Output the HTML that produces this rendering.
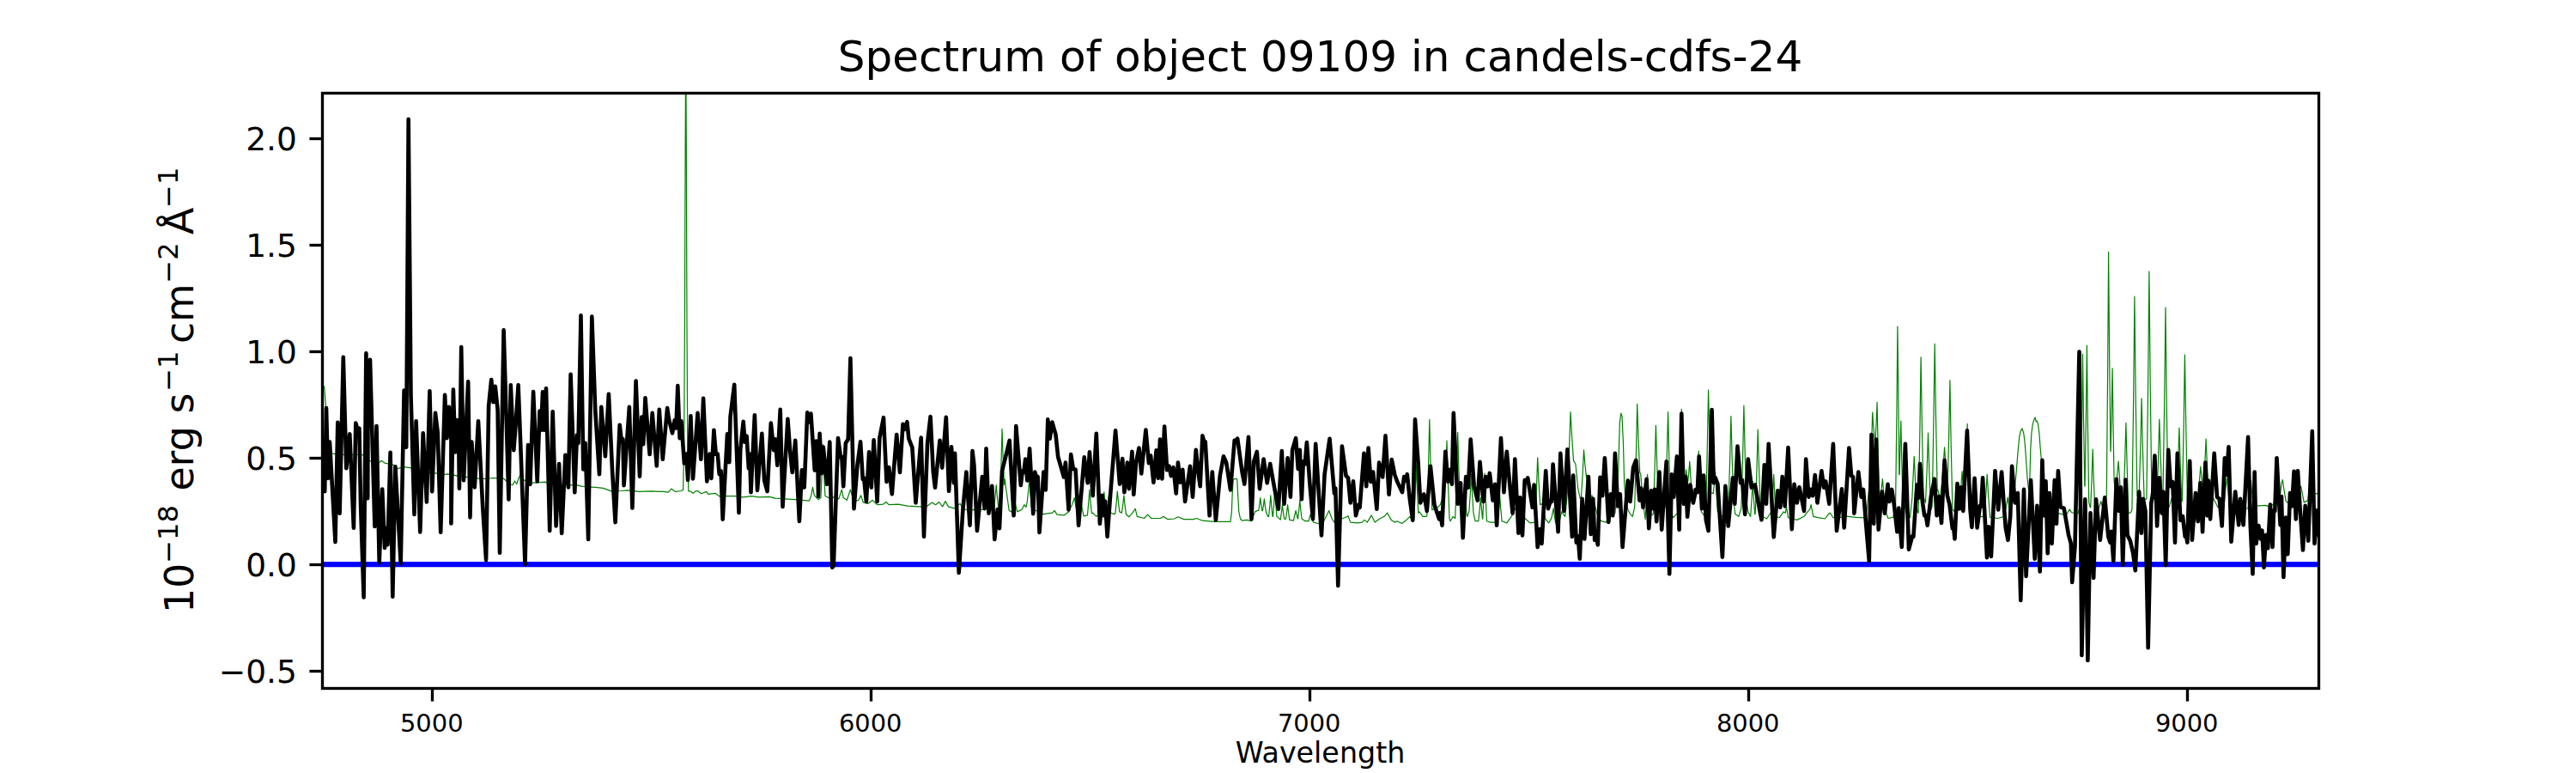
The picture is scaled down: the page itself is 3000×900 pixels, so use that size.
<!DOCTYPE html>
<html lang="en"><head><meta charset="utf-8"><title>Spectrum of object 09109 in candels-cdfs-24</title>
<style>html,body{margin:0;padding:0;background:#fff;}body{width:3000px;height:900px;overflow:hidden;}svg{display:block;}text{font-family:"DejaVu Sans","Liberation Sans",sans-serif;fill:#000;}</style></head><body>
<svg width="3000" height="900" viewBox="0 0 3000 900">
<rect x="0" y="0" width="3000" height="900" fill="#fff"/>
<defs><clipPath id="ax"><rect x="375" y="108" width="2325" height="693"/></clipPath></defs>
<g clip-path="url(#ax)" fill="none" stroke-linejoin="round">
<polyline points="375.8,449.4 377.7,450.1 378.4,459.9 379.3,471.5 380.7,494.8 382.8,515.8 386.3,527.9 395.6,529.3 404.9,529.3 421.2,529.3 424.7,530.9 430.6,536.7 441.0,539.1 444.1,536.3 448.0,539.1 458.5,541.4 463.2,545.6 470.2,543.7 479.5,544.9 491.1,546.5 495.8,550.7 505.1,550.2 514.4,553.0 521.4,551.9 533.0,554.2 547.0,555.8 561.0,557.7 575.0,556.5 586.6,557.2 593.6,563.5 597.1,564.7 599.4,560.0 601.8,563.5 604.1,556.5 606.4,551.9 608.0,557.7 616.9,562.4 626.2,561.9 635.5,561.2 637.9,563.5 649.5,564.2 663.5,564.7 670.0,565.2 672.3,564.9 677.0,566.1 684.0,566.8 693.3,567.3 702.6,568.4 711.9,571.9 723.6,571.5 730.6,570.8 744.5,572.4 758.5,571.9 772.5,572.4 778.3,573.1 781.8,569.1 786.5,572.4 793.4,571.5 794.8,570.8 795.6,570.0 796.6,520.0 797.4,380.0 798.0,200.0 798.7,40.0 799.4,200.0 800.0,380.0 800.8,520.0 801.8,572.0 803.9,571.9 807.4,574.3 809.8,571.9 812.5,571.5 816.7,574.7 822.6,572.4 824.9,575.4 833.0,574.3 837.7,577.7 856.3,577.7 865.7,578.9 875.0,577.7 884.3,578.9 895.9,578.4 902.9,580.1 914.6,580.8 926.2,581.7 942.5,583.1 944.8,576.6 946.5,567.3 948.3,576.6 953.0,581.7 955.9,579.6 957.3,548.6 958.4,517.6 959.5,547.4 960.9,577.2 963.5,578.9 969.3,580.1 971.4,578.2 974.1,579.6 976.8,580.9 980.3,570.1 982.2,579.6 986.3,582.3 990.4,570.1 993.1,579.6 995.8,583.6 999.9,582.3 1002.6,576.8 1005.3,585.0 1010.8,586.4 1016.2,582.3 1021.6,587.7 1028.4,587.2 1032.0,584.5 1035.2,587.7 1046.1,587.2 1057.0,589.1 1070.5,589.9 1078.7,589.9 1085.5,585.0 1089.6,587.7 1093.6,584.5 1097.7,589.9 1101.0,583.6 1104.5,589.9 1111.3,591.8 1118.1,586.4 1122.2,593.2 1133.0,593.7 1146.6,593.2 1156.1,591.0 1157.7,590.9 1159.1,577.7 1160.2,564.6 1161.3,577.6 1162.7,590.5 1164.0,590.4 1164.5,588.3 1165.9,543.8 1167.0,499.4 1168.1,532.0 1169.5,564.6 1170.3,557.8 1171.6,568.7 1173.3,580.9 1175.2,594.5 1177.9,595.9 1182.0,585.0 1184.7,595.9 1190.1,593.2 1192.8,587.7 1195.0,590.4 1196.3,583.9 1197.7,570.9 1198.8,557.8 1199.9,574.0 1201.3,590.1 1201.5,590.4 1206.4,594.5 1214.6,598.6 1225.4,597.2 1228.2,594.5 1230.9,599.1 1239.0,599.9 1244.5,595.9 1248.5,587.7 1251.2,579.6 1254.0,595.9 1256.1,587.7 1258.0,576.8 1259.9,590.4 1262.1,600.8 1266.2,599.9 1266.4,599.9 1267.8,584.9 1268.9,570.0 1270.0,583.9 1271.4,597.8 1272.7,597.2 1276.8,601.3 1282.2,595.9 1283.6,595.9 1284.8,584.3 1285.8,572.8 1286.8,584.3 1288.0,595.9 1288.5,595.9 1289.0,596.0 1290.2,586.4 1291.2,576.8 1292.2,587.0 1293.4,597.1 1293.9,597.2 1297.2,598.6 1298.8,597.9 1300.2,585.0 1301.3,572.0 1302.4,584.0 1303.8,595.9 1304.0,595.9 1306.4,597.1 1307.8,586.9 1308.9,576.8 1310.0,587.7 1311.4,598.7 1314.8,601.8 1318.9,597.2 1322.2,592.3 1324.3,601.3 1332.5,603.5 1336.6,599.1 1340.7,603.5 1351.5,603.5 1354.8,601.3 1359.7,604.6 1367.8,604.0 1371.9,601.8 1378.7,604.6 1389.6,604.6 1393.6,603.5 1400.4,606.2 1414.0,607.3 1433.0,607.3 1434.4,595.9 1435.2,574.1 1436.3,558.4 1438.5,557.3 1440.7,557.8 1441.7,576.8 1442.8,595.9 1444.5,604.0 1446.6,606.2 1452.1,605.4 1457.5,606.7 1461.6,595.9 1464.3,594.5 1465.8,594.5 1466.9,587.1 1467.8,579.6 1468.7,587.1 1469.8,594.5 1470.0,594.5 1470.4,594.6 1471.5,587.8 1472.4,580.9 1473.3,588.5 1474.4,596.0 1476.5,601.3 1477.6,601.3 1478.8,589.1 1479.8,576.8 1480.8,589.1 1482.0,601.3 1482.2,601.3 1482.5,601.3 1483.7,585.7 1484.7,570.0 1485.7,585.7 1486.9,601.3 1487.4,601.3 1491.2,605.1 1492.4,596.4 1493.4,587.7 1494.4,595.9 1495.6,604.1 1495.8,604.0 1497.4,604.4 1498.6,596.0 1499.6,587.7 1500.6,596.5 1501.8,605.3 1502.3,605.4 1506.4,606.2 1509.1,594.5 1511.3,604.0 1511.6,604.0 1512.8,593.2 1513.8,582.3 1514.8,593.2 1516.0,604.0 1516.2,604.0 1520.0,606.7 1524.1,606.7 1526.0,599.1 1529.5,608.1 1534.9,609.5 1541.7,606.7 1544.5,601.3 1547.7,594.5 1551.2,604.0 1554.0,608.1 1562.1,604.0 1566.2,602.7 1570.0,600.8 1572.7,608.1 1580.9,608.9 1586.3,608.1 1589.0,605.4 1592.3,608.1 1597.2,599.9 1601.2,608.1 1606.7,604.0 1612.1,601.3 1615.7,597.2 1620.3,605.4 1624.3,608.1 1627.1,606.7 1632.5,609.5 1637.9,605.4 1642.0,601.3 1644.7,606.7 1646.8,604.0 1648.2,572.7 1649.3,541.5 1650.4,569.4 1651.8,597.3 1652.9,595.9 1657.0,601.3 1661.0,601.3 1661.8,600.5 1663.5,544.5 1664.8,488.5 1666.1,541.1 1667.8,593.8 1668.4,593.2 1671.9,593.2 1677.3,587.7 1680.1,579.6 1682.0,585.5 1683.7,549.2 1685.0,513.0 1686.3,558.3 1688.0,603.6 1689.0,606.7 1692.3,601.3 1694.7,603.7 1696.4,553.6 1697.7,503.5 1699.0,549.4 1700.7,595.3 1703.1,590.5 1704.5,576.8 1705.6,563.0 1706.7,581.2 1708.1,599.4 1709.1,601.3 1711.0,594.3 1712.4,573.3 1713.5,552.4 1714.6,574.9 1716.0,597.4 1718.1,606.7 1721.8,606.7 1723.2,593.2 1724.3,579.6 1725.4,591.9 1726.5,604.0 1726.8,604.2 1727.9,577.5 1729.0,551.0 1730.1,578.8 1731.5,606.6 1731.7,606.7 1735.8,608.1 1739.8,608.1 1743.9,609.5 1744.1,609.4 1745.5,593.1 1746.6,576.8 1747.7,591.8 1749.1,606.9 1749.3,606.7 1754.8,608.9 1760.2,601.3 1765.7,590.4 1769.7,595.9 1776.5,604.0 1782.0,608.9 1787.4,608.1 1787.7,607.0 1789.4,569.9 1790.7,532.8 1792.0,560.2 1793.7,587.6 1796.9,586.4 1799.6,604.0 1803.7,608.9 1806.4,604.0 1806.6,604.2 1808.0,598.0 1809.1,591.8 1810.2,600.2 1811.6,608.7 1811.8,608.9 1815.9,608.1 1818.6,595.9 1822.7,601.3 1825.4,574.1 1825.5,573.8 1827.4,526.7 1829.0,479.6 1830.6,507.8 1832.5,536.1 1832.5,536.1 1834.9,540.2 1837.7,568.7 1840.4,580.9 1841.5,578.5 1843.2,551.2 1844.5,523.9 1845.8,539.8 1847.5,555.7 1847.7,552.4 1849.1,574.1 1851.2,582.3 1854.0,576.8 1858.0,590.4 1860.8,601.3 1864.8,606.7 1870.0,608.1 1870.0,608.1 1875.4,601.3 1880.9,597.2 1883.6,568.7 1884.9,541.5 1886.3,492.6 1887.7,481.2 1889.0,484.5 1890.4,514.3 1891.7,563.3 1893.1,582.3 1895.8,593.2 1898.5,598.6 1901.2,601.3 1903.7,590.4 1903.7,590.4 1905.4,530.4 1906.7,470.3 1908.0,510.0 1909.7,549.7 1910.8,552.4 1912.1,568.7 1913.5,585.0 1916.1,604.7 1917.5,578.5 1918.6,552.4 1919.7,577.1 1921.1,601.7 1921.6,601.3 1925.4,598.6 1927.1,547.0 1928.4,495.3 1929.8,542.9 1931.4,590.5 1931.4,590.4 1933.9,595.9 1939.3,590.4 1939.6,590.7 1941.2,535.1 1942.6,479.6 1943.9,537.6 1945.6,595.7 1945.8,595.9 1948.8,602.7 1954.8,595.9 1955.3,593.8 1957.0,535.1 1958.3,476.3 1959.6,523.1 1961.3,569.8 1961.6,568.7 1963.8,547.0 1965.3,565.0 1966.7,551.2 1967.8,537.4 1968.9,555.6 1970.3,573.7 1970.5,574.1 1973.3,568.7 1975.2,573.5 1976.9,549.4 1978.2,525.2 1979.5,560.1 1981.2,595.1 1981.4,595.9 1985.5,601.3 1986.6,597.6 1988.2,525.8 1989.6,454.0 1990.9,514.1 1992.6,574.1 1995.0,574.1 1995.2,574.9 1996.6,562.3 1997.7,549.7 1998.8,572.3 2000.2,594.9 2000.4,595.9 2005.9,601.3 2012.7,590.4 2012.9,590.1 2014.6,537.3 2015.9,484.5 2017.2,533.4 2018.9,582.3 2018.9,582.3 2020.8,598.6 2024.9,601.3 2027.9,591.3 2029.6,531.7 2030.9,472.2 2032.2,527.4 2033.9,582.6 2035.8,595.9 2038.5,601.3 2038.7,601.2 2040.1,580.8 2041.2,560.5 2042.3,579.6 2043.7,598.7 2043.9,598.6 2044.2,598.2 2045.9,549.2 2047.2,500.2 2048.6,546.1 2050.2,592.0 2052.1,601.3 2057.5,604.0 2062.9,595.9 2063.2,596.1 2064.6,574.3 2065.7,552.4 2066.8,576.8 2068.2,601.1 2068.4,601.3 2072.4,602.7 2075.2,598.6 2077.1,595.9 2079.2,597.2 2080.6,590.4 2082.5,602.7 2087.4,604.0 2092.8,605.4 2101.0,601.3 2105.1,595.9 2107.8,593.2 2109.1,587.7 2111.8,601.3 2117.3,602.7 2125.4,604.0 2129.5,598.6 2131.4,597.2 2134.9,602.7 2141.7,602.7 2148.5,601.3 2150.0,601.2 2161.6,602.4 2173.3,602.8 2176.1,574.4 2178.4,552.8 2179.7,516.4 2180.7,480.0 2181.7,494.9 2183.0,509.9 2183.1,509.2 2183.8,517.4 2185.1,492.9 2186.1,468.4 2187.1,518.9 2188.4,569.4 2188.4,569.8 2190.1,579.1 2192.4,557.6 2194.3,581.4 2195.9,595.4 2198.9,603.5 2204.7,602.4 2206.8,593.0 2207.6,586.8 2208.9,483.5 2209.9,380.2 2210.9,466.4 2211.8,552.4 2212.2,552.6 2212.9,521.2 2213.8,490.0 2214.7,532.1 2215.8,574.2 2216.6,579.1 2219.9,597.7 2224.5,602.4 2226.9,579.1 2229.2,531.3 2231.5,579.1 2232.9,595.4 2234.1,597.3 2235.8,506.6 2237.1,415.8 2238.4,497.9 2240.1,579.9 2240.4,579.1 2242.5,585.4 2244.2,544.7 2245.5,504.0 2246.8,548.2 2248.5,592.5 2249.0,593.0 2250.2,589.4 2251.8,494.9 2253.2,400.4 2254.5,485.8 2256.2,571.2 2256.7,569.8 2259.5,581.4 2261.8,560.4 2264.6,520.8 2266.5,551.1 2267.9,574.4 2267.9,574.5 2269.6,508.7 2270.9,442.8 2272.2,517.9 2273.9,593.0 2273.9,593.0 2276.9,596.5 2281.6,593.0 2283.2,574.4 2285.1,548.8 2287.0,579.1 2288.2,583.2 2289.8,538.3 2291.2,493.4 2292.5,540.8 2294.2,588.2 2294.4,588.4 2301.4,602.4 2310.7,601.2 2312.6,579.1 2314.2,552.3 2315.8,579.1 2317.7,602.4 2327.0,603.5 2334.0,601.2 2336.3,590.7 2338.2,579.1 2339.8,590.7 2341.5,596.5 2344.5,579.1 2346.8,565.1 2348.4,546.5 2350.3,523.2 2351.7,509.2 2353.1,502.2 2355.0,498.9 2356.8,504.5 2358.2,516.2 2359.6,534.8 2361.0,555.8 2362.4,569.8 2363.1,572.1 2363.8,560.4 2364.8,523.2 2365.9,504.5 2367.1,495.2 2368.5,489.4 2370.1,485.9 2371.3,491.0 2372.4,490.1 2373.6,494.1 2375.0,505.7 2375.9,518.5 2377.1,532.5 2378.3,546.5 2379.4,560.4 2381.1,579.1 2382.9,590.7 2389.9,597.7 2399.2,598.2 2406.2,600.0 2408.5,595.8 2410.4,593.0 2412.3,596.5 2414.4,597.2 2420.2,597.7 2423.2,584.9 2424.5,498.6 2425.5,412.3 2426.5,488.9 2427.8,565.4 2427.9,565.1 2428.1,566.0 2429.4,484.2 2430.4,402.3 2431.4,493.5 2432.7,584.8 2434.2,590.7 2434.7,590.9 2436.1,557.1 2437.2,523.2 2438.3,558.1 2439.7,592.9 2440.0,593.0 2441.0,593.0 2442.3,601.2 2444.5,590.7 2446.8,583.7 2449.1,593.0 2451.4,596.5 2453.3,576.0 2454.6,434.6 2455.6,293.3 2456.6,409.2 2457.9,525.1 2458.0,524.3 2458.1,525.5 2459.2,477.2 2460.1,428.9 2461.0,494.4 2462.1,559.9 2463.8,574.4 2465.4,555.8 2467.1,537.1 2468.7,560.4 2470.1,593.0 2472.4,583.7 2472.9,584.7 2474.6,538.6 2475.9,492.4 2477.2,544.6 2478.9,596.7 2479.4,597.7 2481.7,596.5 2482.9,593.3 2484.6,469.3 2485.9,345.2 2487.2,461.1 2488.9,577.1 2489.9,574.4 2491.0,579.1 2491.1,579.1 2492.8,521.4 2494.1,463.8 2495.4,522.4 2497.1,581.1 2498.0,581.4 2499.9,580.9 2501.6,448.5 2502.9,316.1 2504.2,447.8 2505.9,579.4 2507.3,579.1 2510.8,583.7 2511.8,582.5 2513.5,535.4 2514.8,488.2 2516.2,531.6 2517.8,575.0 2518.3,574.4 2519.0,575.9 2520.7,467.0 2522.0,358.0 2523.3,473.3 2525.0,588.6 2526.0,590.7 2529.5,579.1 2534.1,583.7 2534.9,583.7 2536.6,540.9 2537.9,498.0 2539.2,540.9 2540.9,583.7 2541.1,583.7 2541.4,583.6 2543.1,498.4 2544.4,413.2 2545.8,497.4 2547.4,581.6 2548.1,581.4 2552.8,590.7 2559.8,583.7 2561.4,560.4 2562.8,543.0 2564.4,560.4 2566.1,568.9 2567.8,540.0 2569.1,511.1 2570.4,541.5 2572.1,571.9 2572.6,572.1 2578.4,581.4 2583.0,590.7 2590.0,588.4 2591.9,569.8 2593.5,555.8 2595.2,574.4 2597.0,590.7 2606.3,593.0 2618.0,591.9 2619.8,579.1 2621.5,559.3 2623.1,579.1 2625.0,588.4 2629.6,588.9 2638.9,588.4 2643.6,590.7 2652.9,581.4 2655.7,574.4 2657.1,562.8 2658.3,558.6 2659.9,569.8 2662.2,583.7 2666.9,587.2 2673.9,579.1 2677.4,569.8 2679.7,566.3 2681.3,574.4 2683.2,584.9 2687.9,582.6 2689.0,569.8 2690.2,559.3 2691.8,567.4 2693.7,574.4 2697.2,574.9 2699.5,574.4" stroke="#008000" stroke-width="1.200"/>
<line x1="375" y1="657.13" x2="2700" y2="657.13" stroke="#0000ff" stroke-width="6.250"/>
<polyline points="376.0,545.0 378.2,572.1 380.0,475.1 382.1,557.0 384.0,514.6 390.5,631.0 393.3,491.8 395.6,597.7 399.8,415.7 403.3,545.3 407.3,505.3 411.9,614.7 414.3,492.5 416.6,500.8 418.4,498.8 420.1,589.4 423.6,695.5 426.4,411.2 428.2,580.2 428.7,446.1 431.0,418.9 436.4,612.9 438.5,496.0 441.7,654.8 445.2,569.6 448.0,638.0 449.9,615.1 451.5,634.3 454.6,526.8 457.3,694.8 460.4,543.3 466.7,655.9 470.6,454.6 473.2,520.6 475.7,138.7 478.5,459.9 482.5,598.9 484.6,490.2 489.3,619.4 492.7,504.2 496.9,584.4 500.4,455.3 503.2,572.1 507.0,480.9 509.8,504.1 513.2,619.8 518.1,459.9 520.5,510.1 522.8,473.9 525.4,510.1 525.4,609.4 527.9,453.6 530.2,526.4 531.9,489.0 534.4,528.8 534.9,568.6 537.2,404.0 540.0,559.3 545.2,444.3 547.5,602.4 549.3,514.6 552.8,567.4 557.0,490.2 562.2,590.6 566.1,652.0 569.1,472.7 572.2,442.0 574.5,468.2 576.8,449.9 579.6,477.3 582.0,643.6 586.6,384.2 590.1,500.8 592.4,581.4 594.8,448.3 598.3,524.1 600.6,494.8 603.6,448.3 611.5,656.6 615.0,518.1 617.4,563.9 621.1,456.0 625.7,560.4 628.5,478.5 630.2,500.8 632.0,456.4 633.9,500.8 636.0,452.2 640.2,618.0 643.7,479.2 647.6,612.4 651.1,540.1 654.2,621.0 658.4,529.8 661.9,567.4 664.6,435.9 669.3,573.3 671.9,506.5 673.5,515.9 676.5,367.4 679.3,546.5 681.6,515.8 685.1,628.0 689.3,368.6 693.3,478.5 698.0,552.3 700.3,473.9 704.9,531.3 708.9,458.7 713.1,548.6 716.6,608.2 721.7,494.8 724.0,514.8 725.4,511.2 726.6,565.1 732.9,473.9 736.4,591.4 740.6,443.6 745.0,554.6 747.3,485.5 749.2,517.1 751.5,463.4 756.6,529.0 759.7,480.9 764.8,542.5 767.8,476.9 771.8,534.8 777.1,475.1 779.0,488.0 783.0,504.3 785.8,489.0 787.4,498.5 789.3,449.0 791.6,510.1 793.4,490.2 796.9,539.5 799.3,528.6 801.1,558.8 804.4,484.4 807.0,557.4 812.5,480.9 816.3,534.8 819.1,463.9 823.3,560.4 826.5,528.6 828.4,557.0 831.4,500.7 833.7,528.8 835.8,528.6 837.7,552.1 839.6,548.4 841.7,604.7 847.0,505.3 849.3,538.3 850.5,485.5 855.2,447.8 860.5,597.0 862.2,524.1 865.7,490.9 867.5,514.8 869.6,507.7 871.9,545.3 873.1,528.6 874.5,573.3 878.9,483.2 882.0,570.9 887.3,504.9 890.1,559.3 893.6,572.1 897.8,492.5 901.1,524.1 902.9,511.2 905.3,541.8 908.7,476.9 911.5,590.0 917.4,487.9 920.4,528.8 922.7,550.0 926.2,512.8 930.9,607.0 933.9,547.3 936.7,567.4 940.2,480.4 942.1,491.5 944.4,481.6 948.8,547.6 950.7,513.5 952.3,528.8 953.0,577.9 954.6,504.9 957.0,551.1 958.8,520.5 963.0,563.9 966.3,514.6 969.3,660.6 970.8,658.7 976.0,510.1 979.0,532.4 980.3,531.9 982.2,566.3 984.9,515.7 987.7,511.6 990.4,417.0 994.5,592.2 998.5,541.5 1002.1,514.2 1004.8,558.2 1006.1,556.3 1008.9,584.0 1012.1,526.4 1014.8,567.7 1017.6,512.3 1021.6,584.0 1024.3,510.3 1029.0,486.2 1032.5,560.9 1035.2,544.1 1038.8,575.3 1042.0,533.4 1044.2,506.0 1048.0,550.0 1051.5,493.8 1053.7,499.8 1056.4,491.1 1058.3,510.6 1062.4,521.1 1066.5,585.4 1072.7,509.6 1076.0,624.8 1080.1,515.7 1083.6,485.1 1086.8,549.7 1089.0,567.7 1094.5,512.8 1097.2,544.6 1101.8,485.7 1105.1,571.8 1108.0,520.4 1110.8,562.3 1112.1,527.8 1116.7,666.9 1121.4,593.2 1125.4,549.5 1129.5,611.7 1132.5,525.1 1134.4,541.5 1137.9,618.0 1143.9,555.0 1146.6,592.2 1148.5,522.3 1151.5,597.6 1155.3,565.8 1158.3,628.0 1161.8,593.0 1164.0,615.2 1167.0,548.2 1171.1,532.0 1175.7,512.8 1180.6,600.3 1183.3,496.0 1188.8,565.0 1190.7,548.2 1192.3,550.0 1194.2,534.6 1196.4,559.5 1199.1,522.3 1203.2,598.1 1205.3,549.5 1207.2,556.8 1208.6,555.0 1210.5,619.9 1215.4,549.5 1217.8,570.4 1220.3,488.4 1222.7,510.6 1225.4,491.6 1229.5,506.2 1232.2,532.0 1239.0,555.5 1240.9,538.6 1244.5,593.5 1247.2,529.1 1249.9,546.0 1252.6,546.8 1256.1,611.7 1262.7,532.4 1266.7,562.3 1268.9,526.4 1272.7,577.2 1276.8,504.7 1280.9,609.8 1283.6,576.7 1285.5,600.3 1287.1,583.5 1289.6,624.8 1293.1,576.8 1299.1,501.4 1304.0,563.6 1307.2,534.0 1309.4,573.1 1312.9,538.6 1314.8,569.1 1318.4,525.9 1320.3,575.8 1323.0,538.8 1326.5,521.5 1329.2,551.4 1334.4,500.6 1337.9,539.2 1340.1,530.5 1343.4,561.7 1346.6,524.2 1348.8,556.8 1351.0,511.5 1353.4,557.4 1356.1,496.5 1359.1,547.3 1361.6,542.7 1363.8,554.1 1366.5,544.1 1369.7,574.5 1371.9,538.6 1374.6,561.7 1377.3,546.8 1380.1,584.0 1386.0,542.7 1389.0,578.6 1392.8,523.7 1395.8,552.4 1397.7,566.3 1400.4,507.4 1402.1,513.3 1403.7,514.2 1408.6,600.3 1411.8,549.5 1415.9,605.7 1420.8,553.8 1424.9,531.3 1428.2,538.8 1433.0,570.4 1437.7,512.8 1439.3,513.3 1441.2,510.7 1446.6,549.7 1449.3,563.6 1454.0,508.8 1457.5,604.4 1460.2,537.4 1463.8,525.9 1467.0,569.1 1471.6,534.6 1475.7,562.3 1479.2,540.0 1483.3,563.3 1488.8,592.7 1492.8,525.1 1495.5,586.7 1499.6,533.2 1502.9,578.6 1505.1,523.9 1509.1,510.1 1511.8,546.0 1513.8,523.7 1515.9,581.3 1517.8,537.3 1519.7,540.5 1521.9,515.0 1525.4,563.3 1529.0,604.4 1532.2,516.9 1539.0,623.4 1542.6,552.4 1548.5,510.7 1554.0,574.5 1555.3,568.5 1558.3,682.0 1562.9,519.6 1567.6,554.1 1570.0,556.3 1572.7,585.4 1576.0,560.4 1579.0,600.3 1582.2,587.6 1583.6,590.8 1588.5,527.8 1591.2,566.3 1593.6,521.5 1596.4,560.9 1599.1,549.5 1603.4,592.7 1606.1,538.6 1610.2,555.5 1613.5,507.4 1617.6,575.8 1620.8,535.1 1624.3,552.8 1627.1,560.5 1633.0,573.1 1635.2,555.0 1637.1,559.5 1638.8,552.2 1642.0,582.3 1645.3,605.7 1648.0,488.4 1651.5,537.4 1654.2,585.4 1658.3,575.3 1661.8,594.9 1665.9,542.7 1670.5,587.7 1676.0,604.4 1677.3,597.1 1679.5,611.7 1683.3,525.9 1686.3,560.9 1688.8,546.8 1690.9,563.6 1692.8,480.8 1697.7,586.7 1701.0,562.3 1703.7,626.1 1707.2,555.0 1709.9,567.7 1712.7,511.5 1716.7,566.0 1720.8,582.6 1723.5,537.8 1727.6,584.0 1730.3,555.0 1732.5,566.3 1734.9,550.9 1738.5,582.6 1741.2,563.9 1743.1,611.7 1748.0,510.1 1751.5,573.1 1754.8,525.9 1758.9,571.4 1761.6,597.6 1764.3,534.6 1768.4,620.7 1770.3,579.4 1773.0,623.4 1775.7,559.0 1777.3,560.9 1779.2,556.3 1784.7,590.8 1786.6,564.5 1790.7,637.0 1793.4,616.1 1795.5,632.9 1800.2,548.2 1802.9,592.2 1805.6,583.5 1807.0,584.0 1808.6,540.5 1814.6,619.3 1817.3,527.8 1821.4,594.9 1825.4,523.2 1830.9,624.8 1832.2,553.6 1835.8,631.6 1837.7,624.2 1839.8,650.6 1842.6,580.8 1845.3,627.5 1849.9,555.0 1852.6,622.0 1855.3,580.8 1857.2,628.8 1858.9,624.2 1860.8,634.3 1863.5,555.8 1866.2,577.2 1868.9,533.2 1873.3,607.9 1876.0,575.3 1878.2,600.3 1880.9,527.8 1884.1,589.4 1886.8,575.3 1889.6,637.0 1895.8,559.6 1898.5,584.0 1902.1,544.2 1905.3,535.9 1909.4,582.6 1911.3,568.5 1913.5,590.8 1917.6,557.7 1920.3,615.2 1923.0,571.3 1925.7,592.2 1927.1,569.9 1929.2,607.1 1932.5,549.5 1935.2,616.6 1940.7,537.3 1944.2,668.2 1946.9,552.2 1949.3,578.6 1952.9,531.3 1955.6,616.6 1958.3,481.6 1961.0,586.7 1963.2,555.0 1965.1,601.7 1968.4,564.5 1971.9,585.4 1975.2,569.9 1976.8,573.1 1978.7,531.3 1982.0,592.2 1984.1,553.6 1986.8,605.4 1989.6,618.0 1993.6,477.0 1995.8,562.3 1997.7,556.3 2000.4,563.3 2005.9,648.7 2009.4,565.8 2012.7,612.5 2018.1,556.3 2020.3,586.7 2023.5,519.6 2027.1,562.3 2029.0,559.0 2032.2,598.9 2035.8,534.6 2039.8,567.7 2043.9,564.5 2046.6,579.6 2051.5,605.2 2054.8,541.4 2057.0,586.7 2059.7,516.9 2065.7,625.3 2070.3,571.3 2073.3,590.8 2075.7,555.0 2078.7,589.4 2082.5,521.0 2086.8,616.1 2089.6,563.9 2092.8,585.4 2095.5,567.2 2101.0,594.9 2103.2,534.6 2106.4,578.6 2109.1,569.9 2111.0,577.2 2113.8,553.0 2116.5,585.4 2121.4,548.2 2124.1,567.7 2126.2,560.4 2130.3,586.7 2134.9,516.9 2139.0,618.0 2145.0,569.4 2147.7,614.4 2153.4,521.5 2156.1,554.1 2158.0,555.0 2159.4,597.6 2164.3,549.5 2167.6,578.6 2170.0,569.9 2173.3,612.2 2176.8,653.3 2179.5,506.0 2182.2,609.8 2184.9,511.5 2187.7,616.6 2191.7,572.6 2195.0,597.6 2198.5,563.9 2200.4,584.0 2203.2,569.9 2205.9,587.7 2209.4,619.3 2211.3,591.6 2214.8,637.0 2218.9,516.9 2223.0,639.7 2227.1,624.2 2228.4,624.8 2232.5,564.5 2234.4,579.6 2236.0,540.0 2238.8,583.6 2241.2,600.3 2242.8,599.8 2244.7,611.7 2248.8,578.2 2252.9,557.7 2255.6,600.3 2258.3,578.0 2261.0,609.0 2264.6,535.9 2267.8,576.8 2270.5,587.7 2273.8,615.2 2275.2,614.7 2276.5,627.5 2279.5,563.1 2282.0,592.2 2284.1,567.2 2286.3,594.9 2290.9,501.4 2294.5,593.2 2296.4,613.9 2299.6,556.9 2302.6,614.4 2305.9,588.9 2307.2,589.4 2309.1,556.3 2312.1,612.2 2314.0,649.2 2315.9,613.4 2318.9,647.9 2323.5,548.2 2327.1,593.5 2331.1,549.5 2333.9,590.4 2335.8,614.9 2338.5,628.8 2341.2,601.3 2343.1,542.7 2346.6,585.4 2349.9,574.0 2353.3,699.0 2357.0,569.9 2359.6,671.0 2365.1,559.0 2369.7,650.6 2372.4,588.9 2375.7,665.5 2378.4,535.9 2380.6,600.3 2382.5,560.4 2384.7,644.3 2386.8,574.0 2389.6,632.9 2392.8,559.0 2395.0,609.8 2396.9,548.2 2399.6,590.4 2403.7,591.8 2409.1,623.0 2411.8,632.6 2413.2,678.0 2416.5,636.0 2421.5,409.6 2424.4,763.0 2428.3,581.2 2431.4,769.0 2434.5,597.2 2438.2,673.0 2441.0,581.2 2445.8,628.8 2451.2,579.4 2455.3,624.8 2457.5,631.6 2458.9,618.8 2461.3,653.3 2464.8,557.7 2467.6,594.9 2469.9,567.2 2472.2,657.4 2475.4,558.5 2477.6,623.0 2480.9,629.8 2484.1,643.8 2486.8,664.2 2491.2,572.6 2493.9,620.7 2495.8,580.8 2498.5,594.9 2501.7,754.3 2505.3,586.2 2507.2,574.1 2509.4,530.5 2512.1,612.5 2514.8,556.3 2517.6,597.6 2519.5,572.6 2522.2,657.9 2525.2,523.7 2527.9,566.3 2530.3,561.2 2533.0,631.6 2535.8,527.8 2539.3,605.7 2542.0,601.1 2544.7,624.8 2546.1,624.2 2547.4,631.6 2550.2,536.7 2552.9,628.8 2557.0,574.0 2559.7,607.1 2562.4,562.3 2565.1,619.3 2568.4,538.6 2570.5,600.3 2571.9,559.6 2574.1,604.4 2578.7,527.8 2582.0,578.6 2584.7,580.8 2587.7,612.5 2590.9,533.2 2593.1,552.8 2595.5,520.4 2598.5,630.7 2603.2,572.6 2607.2,611.2 2609.1,580.8 2612.7,611.2 2618.1,508.8 2620.8,612.2 2623.5,668.2 2625.7,549.5 2627.6,632.9 2630.3,612.0 2633.0,627.5 2634.4,617.5 2636.6,660.6 2639.0,622.9 2641.2,638.3 2643.9,587.6 2646.6,637.0 2648.0,594.4 2649.3,594.9 2651.5,533.2 2655.6,611.2 2657.0,578.0 2659.4,672.0 2662.1,602.5 2664.3,645.1 2667.0,574.0 2669.2,589.4 2671.6,548.7 2673.8,604.4 2676.0,548.2 2678.7,593.2 2682.0,640.5 2684.7,588.9 2688.2,629.7 2692.8,502.0 2695.5,632.9 2698.3,594.4 2700.2,623.0" stroke="#000" stroke-width="4.600" stroke-linecap="round"/>
</g>
<g stroke="#000" stroke-width="3.333" fill="none">
<line x1="503.50" y1="801.5" x2="503.50" y2="816.58"/>
<line x1="1014.50" y1="801.5" x2="1014.50" y2="816.58"/>
<line x1="1525.50" y1="801.5" x2="1525.50" y2="816.58"/>
<line x1="2036.50" y1="801.5" x2="2036.50" y2="816.58"/>
<line x1="2547.50" y1="801.5" x2="2547.50" y2="816.58"/>
<line x1="375.5" y1="781.50" x2="360.42" y2="781.50"/>
<line x1="375.5" y1="657.50" x2="360.42" y2="657.50"/>
<line x1="375.5" y1="533.50" x2="360.42" y2="533.50"/>
<line x1="375.5" y1="409.50" x2="360.42" y2="409.50"/>
<line x1="375.5" y1="285.50" x2="360.42" y2="285.50"/>
<line x1="375.5" y1="161.50" x2="360.42" y2="161.50"/>
<rect x="375.5" y="108.5" width="2325" height="693" stroke-linejoin="miter"/>
</g>
<g font-size="28.92" text-anchor="middle">
<text x="502.75" y="852.20">5000</text>
<text x="1013.74" y="852.20">6000</text>
<text x="1524.73" y="852.20">7000</text>
<text x="2035.71" y="852.20">8000</text>
<text x="2546.70" y="852.20">9000</text>
</g>
<g font-size="37.50" text-anchor="end">
<text x="345.80" y="794.86">−0.5</text>
<text x="345.80" y="670.83">0.0</text>
<text x="345.80" y="546.80">0.5</text>
<text x="345.80" y="422.77">1.0</text>
<text x="345.80" y="298.74">1.5</text>
<text x="345.80" y="174.71">2.0</text>
</g>
<text x="1537.5" y="83" font-size="50" text-anchor="middle">Spectrum of object 09109 in candels-cdfs-24</text>
<text x="1537.5" y="887.6" font-size="33.33" text-anchor="middle">Wavelength</text>
<g transform="rotate(-90)" font-size="45.83">
<text x="-714.00" y="225.30">10</text>
<text x="-655.80" y="206.60" font-size="32.08">−18</text>
<text x="-571.60" y="225.30">erg</text>
<text x="-481.40" y="225.30">s</text>
<text x="-455.80" y="206.60" font-size="32.08">−1</text>
<text x="-400.10" y="225.30">cm</text>
<text x="-329.70" y="206.60" font-size="32.08">−2</text>
<text x="-273.10" y="225.30">Å</text>
<text x="-241.90" y="206.60" font-size="32.08">−1</text>
</g>
</svg></body></html>
